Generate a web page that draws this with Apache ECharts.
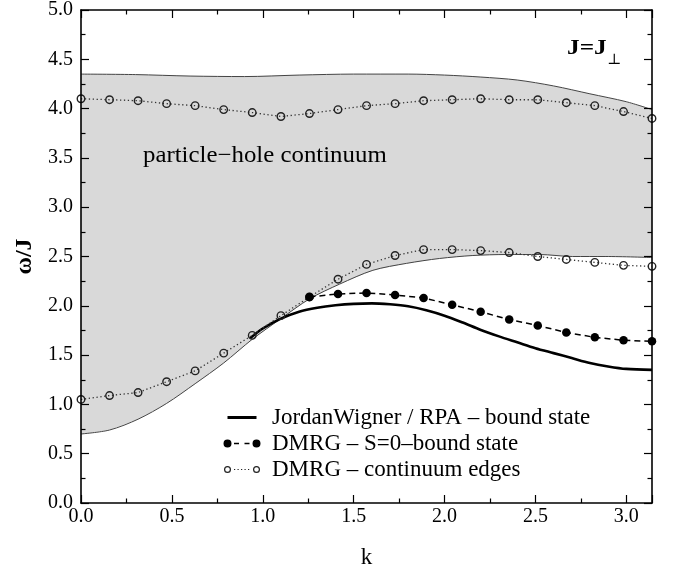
<!DOCTYPE html>
<html>
<head>
<meta charset="utf-8">
<script src="https://cdn.jsdelivr.net/npm/echarts@6/dist/echarts.min.js"></script>
<style>
html,body{margin:0;padding:0;background:#fff;}
#chart{width:673px;height:574px;}
</style>
</head>
<body>
<div id="chart"></div>
<script>
// ---------------- data ----------------
const xTickLabels = ['0.0','0.5','1.0','1.5','2.0','2.5','3.0'];
const yTickLabels = ['0.0','0.5','1.0','1.5','2.0','2.5','3.0','3.5','4.0','4.5','5.0'];

// DMRG k-grid (k = n*pi/20)
const kDMRG = [0, 0.157, 0.314, 0.471, 0.628, 0.785, 0.942, 1.100, 1.257, 1.414, 1.571,
               1.728, 1.885, 2.042, 2.199, 2.356, 2.513, 2.670, 2.827, 2.985, 3.14159];
// DMRG continuum edges (open circles)
const dmrgUpperEdge = [4.10, 4.09, 4.08, 4.05, 4.03, 3.99, 3.96, 3.92, 3.95, 3.99, 4.03,
                       4.05, 4.08, 4.09, 4.10, 4.09, 4.09, 4.06, 4.03, 3.97, 3.90];
const dmrgLowerEdge = [1.05, 1.09, 1.12, 1.23, 1.34, 1.52, 1.70, 1.90, 2.09, 2.27, 2.42,
                       2.51, 2.57, 2.57, 2.56, 2.54, 2.50, 2.47, 2.44, 2.41, 2.40];
// DMRG S=0 bound state (filled dots), from k index 8 on
const kBound = [1.257, 1.414, 1.571, 1.728, 1.885, 2.042, 2.199, 2.356, 2.513, 2.670, 2.827, 2.985, 3.14159];
const dmrgBound = [2.09, 2.12, 2.13, 2.11, 2.08, 2.01, 1.94, 1.86, 1.80, 1.73, 1.68, 1.65, 1.64];

// Jordan-Wigner / RPA bound state (thick line)
const kJW = [0.93, 1.0, 1.1, 1.2, 1.3, 1.4, 1.5, 1.6, 1.7, 1.8, 1.9, 2.0, 2.1, 2.2, 2.3, 2.4,
             2.5, 2.6, 2.7, 2.8, 2.9, 3.0, 3.14159];
const jwBound = [1.67, 1.77, 1.87, 1.94, 1.98, 2.005, 2.02, 2.025, 2.015, 1.995, 1.955, 1.90,
                 1.83, 1.755, 1.69, 1.63, 1.57, 1.52, 1.47, 1.42, 1.385, 1.36, 1.35];

// particle-hole continuum boundaries
const kContLow = [0, 0.157, 0.314, 0.471, 0.628, 0.785, 0.942, 1.10, 1.257, 1.423, 1.606,
                  1.79, 1.973, 2.156, 2.339, 2.522, 2.705, 2.888, 3.14159];
const contLow = [0.70, 0.74, 0.85, 1.01, 1.21, 1.42, 1.66, 1.87, 2.07, 2.22, 2.36,
                 2.43, 2.48, 2.51, 2.52, 2.52, 2.50, 2.50, 2.49];
const kContUp = [0, 0.3, 0.6, 0.9, 1.2, 1.5, 1.8, 2.0, 2.2, 2.4, 2.6, 2.8, 3.0, 3.14159];
const contUp = [4.35, 4.345, 4.33, 4.325, 4.34, 4.35, 4.35, 4.34, 4.32, 4.29, 4.23, 4.15, 4.07, 3.99];

const NAME_JW = 'JordanWigner / RPA \u2013 bound state';
const NAME_S0 = 'DMRG \u2013 S=0\u2013bound state';
const NAME_CE = 'DMRG \u2013 continuum edges';

// ---------------- helpers ----------------
const SERIF = '"Liberation Serif", "Times New Roman", "DejaVu Serif", serif';
const zip = (ks, vs) => ks.map((k, i) => [k, vs[i]]);
const fmt = v => {
  const r = Math.round(v / 0.5);
  return Math.abs(v / 0.5 - r) < 1e-6 ? (r * 0.5).toFixed(1) : '';
};
const SPECKS = 'M0 0h0.01v0.01h-0.01Z M43.99 9.99h0.01v0.01h-0.01Z ';
const ICON_JW = 'path://' + SPECKS + 'M4.5 3.5h29v3h-29Z';
const ICON_S0 = 'path://' + SPECKS +
  'M0.5 5a4 4 0 1 0 8 0a4 4 0 1 0 -8 0Z M29.5 5a4 4 0 1 0 8 0a4 4 0 1 0 -8 0Z ' +
  'M11 4.3h5v1.4h-5Z M21.5 4.3h5v1.4h-5Z';
const ICON_CE = 'path://' + SPECKS +
  'M1 5a3.5 3.5 0 1 0 7 0a3.5 3.5 0 1 0 -7 0Z M2.2 5a2.3 2.3 0 1 1 4.6 0a2.3 2.3 0 1 1 -4.6 0Z ' +
  'M30 5a3.5 3.5 0 1 0 7 0a3.5 3.5 0 1 0 -7 0Z M31.2 5a2.3 2.3 0 1 1 4.6 0a2.3 2.3 0 1 1 -4.6 0Z ' +
  'M11 4.4h1.2v1.2h-1.2Z M14.5 4.4h1.2v1.2h-1.2Z M18 4.4h1.2v1.2h-1.2Z M21.5 4.4h1.2v1.2h-1.2Z M25 4.4h1.2v1.2h-1.2Z';

const axisCommon = {
  type: 'value',
  z: 10,
  axisLine: { show: true, onZero: false, lineStyle: { color: '#000', width: 1.6 } },
  axisTick: { show: true, inside: true, length: 8, lineStyle: { color: '#000', width: 1.2 } },
  minorTick: { show: true, splitNumber: 2, length: 4.5, lineStyle: { color: '#000', width: 1.2 } },
  splitLine: { show: false },
  minorSplitLine: { show: false }
};

const chart = echarts.init(document.getElementById('chart'), null, { renderer: 'canvas' });
const option = {
  animation: false,
  backgroundColor: '#fff',
  grid: { left: 81, right: 21, top: 10, bottom: 65, containLabel: false },
  xAxis: [
    Object.assign({}, axisCommon, {
      position: 'bottom', min: 0, max: Math.PI, interval: 0.5,
      axisLabel: { formatter: fmt, fontFamily: SERIF, fontSize: 20, color: '#000', margin: 4 },
      name: 'k', nameLocation: 'middle', nameGap: 43,
      nameTextStyle: { fontFamily: SERIF, fontSize: 23, color: '#000' }
    }),
    Object.assign({}, axisCommon, {
      position: 'top', min: 0, max: Math.PI, interval: 0.5,
      axisLabel: { show: false }
    })
  ],
  yAxis: [
    Object.assign({}, axisCommon, {
      position: 'left', min: 0, max: 5, interval: 0.5,
      axisLabel: { formatter: fmt, fontFamily: SERIF, fontSize: 20, color: '#000', margin: 8 },
      name: '\u03c9/J', nameLocation: 'middle', nameGap: 44, nameRotate: 90,
      nameTextStyle: { fontFamily: SERIF, fontSize: 24, fontWeight: 'bold', color: '#000' }
    }),
    Object.assign({}, axisCommon, {
      position: 'right', min: 0, max: 5, interval: 0.5,
      axisLabel: { show: false }
    })
  ],
  legend: {
    orient: 'vertical', left: 218, top: 401,
    itemWidth: 44, itemHeight: 10, itemGap: 3,
    selectedMode: false,
    textStyle: { fontFamily: SERIF, fontSize: 23, color: '#000' },
    data: [
      { name: NAME_JW, icon: ICON_JW, itemStyle: { color: '#000', borderWidth: 0 } },
      { name: NAME_S0, icon: ICON_S0, itemStyle: { color: '#000', borderWidth: 0 } },
      { name: NAME_CE, icon: ICON_CE, itemStyle: { color: '#222', borderWidth: 0 } }
    ]
  },
  graphic: [
    { type: 'text', x: 143, y: 156, scaleX: 1.08, silent: true, z: 100,
      style: { text: 'particle\u2212hole continuum', font: '23px ' + SERIF, fill: '#000', verticalAlign: 'middle' } },
    { type: 'text', x: 567, y: 48.5, scaleX: 1.15, silent: true, z: 100,
      style: { text: 'J=J', font: 'bold 22px ' + SERIF, fill: '#000', verticalAlign: 'middle' } },
    { type: 'text', x: 607, y: 53, silent: true, z: 100,
      style: { text: '\u22a5', font: '15px "DejaVu Serif", "DejaVu Sans"', fill: '#000', verticalAlign: 'top' } }
  ],
  series: [
    {
      type: 'custom', name: 'continuum', silent: true, z: 1,
      xAxisIndex: 0, yAxisIndex: 0,
      data: [[0, 0]],
      renderItem: function (params, api) {
        if (params.dataIndex !== 0) return;
        const pts = [];
        for (let i = 0; i < kContUp.length; i++) pts.push(api.coord([kContUp[i], contUp[i]]));
        for (let i = kContLow.length - 1; i >= 0; i--) pts.push(api.coord([kContLow[i], contLow[i]]));
        return { type: 'polygon', shape: { points: pts }, style: { fill: '#d9d9d9', stroke: null } };
      }
    },
    {
      type: 'line', name: 'contUp', data: zip(kContUp, contUp), smooth: 0.3, symbol: 'none', z: 2,
      silent: true, lineStyle: { color: '#444', width: 1 }
    },
    {
      type: 'line', name: 'contLow', data: zip(kContLow, contLow), smooth: 0.3, symbol: 'none', z: 2,
      silent: true, lineStyle: { color: '#444', width: 1 }
    },
    {
      type: 'line', name: NAME_JW, data: zip(kJW, jwBound), smooth: 0.3, symbol: 'none', z: 3,
      lineStyle: { color: '#000', width: 2.6 }, itemStyle: { color: '#000' }
    },
    {
      type: 'line', name: NAME_CE, data: zip(kDMRG, dmrgUpperEdge), symbol: 'circle', symbolSize: 7.5,
      showSymbol: true, clip: false, z: 4,
      lineStyle: { color: '#333', width: 1.3, type: [1.3, 2.6] },
      itemStyle: { color: 'rgba(0,0,0,0)', borderColor: '#222', borderWidth: 1.4 }
    },
    {
      type: 'line', name: NAME_CE, data: zip(kDMRG, dmrgLowerEdge), symbol: 'circle', symbolSize: 7.5,
      showSymbol: true, clip: false, z: 4,
      lineStyle: { color: '#333', width: 1.3, type: [1.3, 2.6] },
      itemStyle: { color: 'rgba(0,0,0,0)', borderColor: '#222', borderWidth: 1.4 }
    },
    {
      type: 'line', name: NAME_S0, data: zip(kBound, dmrgBound), symbol: 'circle', symbolSize: 8.5,
      showSymbol: true, clip: false, z: 5,
      lineStyle: { color: '#000', width: 1.5, type: [6, 4] },
      itemStyle: { color: '#000' }
    }
  ]
};
chart.setOption(option);
</script>
</body>
</html>
